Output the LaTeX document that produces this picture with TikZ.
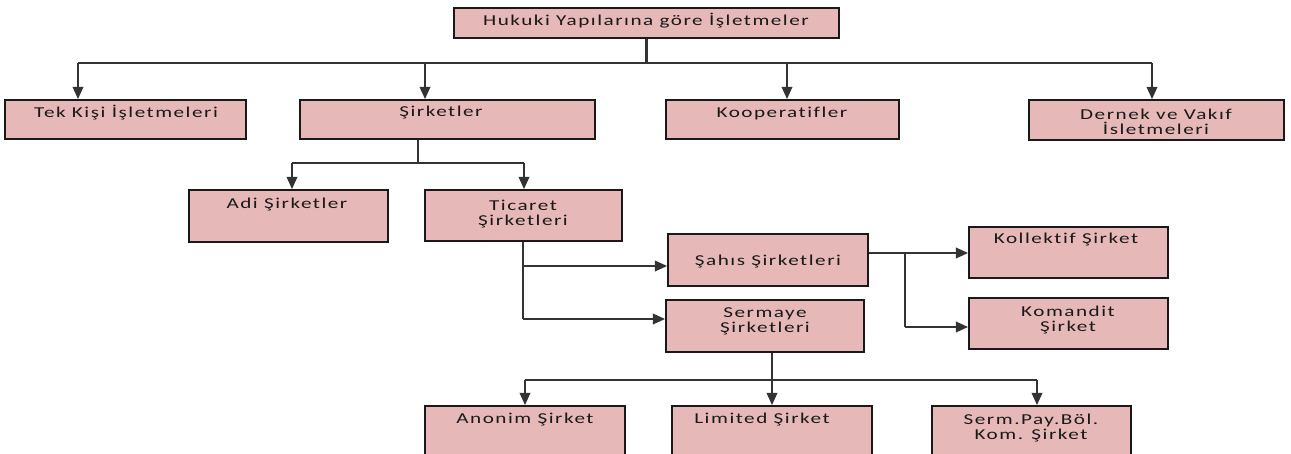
\documentclass[tikz,border=0pt]{standalone}
\usepackage{fontspec}
\setmainfont{Carlito}[FakeStretch=1.4,LetterSpace=10,Ligatures=NoCommon]
\usepackage{tikz}
\usetikzlibrary{fit,arrows.meta}
\definecolor{boxpink}{HTML}{E6B9B8}

\begin{document}
\begin{tikzpicture}[x=0.02cm,y=-0.02cm,
  box/.style={draw=black!90,line width=1pt,fill=boxpink,inner sep=0pt},
  txt/.style={font=\fontsize{8.6}{8.6}\selectfont,text=black!90,align=center,inner sep=0pt},
  line/.style={draw=black!80,line width=1.2pt},
  arr/.style={line,-{Triangle[length=7pt,width=6pt]}}]
\clip (0,0) rectangle (1291,453);

% boxes
\node[box,fit={(454,8) (839,38)}] (top) {};
\node[box,fit={(5,100) (246,139)}] (tek) {};
\node[box,fit={(300,100) (595,139)}] (sirket) {};
\node[box,fit={(666,100) (899,139)}] (koop) {};
\node[box,fit={(1029,100) (1284,140)}] (dernek) {};
\node[box,fit={(189,190) (388,242)}] (adi) {};
\node[box,fit={(425,190) (622,241)}] (ticaret) {};
\node[box,fit={(668,234) (868,286)}] (sahis) {};
\node[box,fit={(666,300) (864,352)}] (sermaye) {};
\node[box,fit={(969,227) (1168,278)}] (kollektif) {};
\node[box,fit={(969,298) (1168,349)}] (komandit) {};
\node[box,fit={(425,406) (625,470)}] (anonim) {};
\node[box,fit={(672,406) (872,470)}] (limited) {};
\node[box,fit={(932,406) (1131,470)}] (spbk) {};

% texts
\node[txt] (top-t) at (646,21) {Hukuki Yapılarına göre İşletmeler};
\node[txt] (tek-t) at (126,113) {Tek Kişi İşletmeleri};
\node[txt] (sirket-t) at (441,113) {Şirketler};
\node[txt] (koop-t) at (782,113) {Kooperatifler};
\node[txt] (dernek-t) at (1156,122) {Dernek ve Vakıf\\İsletmeleri};
\node[txt] (adi-t) at (287,205) {Adi Şirketler};
\node[txt] (ticaret-t) at (523,214) {Ticaret\\Şirketleri};
\node[txt] (sahis-t) at (768,262) {Şahıs Şirketleri};
\node[txt] (sermaye-t) at (765,321) {Sermaye\\Şirketleri};
\node[txt] (kollektif-t) at (1066,240) {Kollektif Şirket};
\node[txt] (komandit-t) at (1068,320) {Komandit\\Şirket};
\node[txt] (anonim-t) at (525,420) {Anonim Şirket};
\node[txt] (limited-t) at (762,420) {Limited Şirket};
\node[txt] (spbk-t) at (1031,428) {Serm.Pay.Böl.\\Kom. Şirket};

% bus points
\coordinate (h1) at (643,63);
\coordinate (h1w) at (78,63);
\coordinate (h1a) at (425,63);
\coordinate (h1b) at (787,63);
\coordinate (h1e) at (1152,63);
\coordinate (h2) at (418,163);
\coordinate (h2w) at (292,163);
\coordinate (h2e) at (524,163);
\coordinate (v1) at (523,266);
\coordinate (v2) at (523,319);
\coordinate (k1) at (905,253);
\coordinate (k2) at (905,327);
\coordinate (h3) at (772,380);
\coordinate (h3w) at (525,380);
\coordinate (h3e) at (1037,380);

% connectors
\draw[line] (top.south) -- (top.south |- h1);
\draw[line] (h1w) -- (h1e);
\draw[arr] (h1w) -- (h1w |- tek.north);
\draw[arr] (h1a) -- (h1a |- sirket.north);
\draw[arr] (h1b) -- (h1b |- koop.north);
\draw[arr] (h1e) -- (h1e |- dernek.north);

\draw[line] (h2 |- sirket.south) -- (h2);
\draw[line] (h2w) -- (h2e);
\draw[arr] (h2w) -- (h2w |- adi.north);
\draw[arr] (h2e) -- (h2e |- ticaret.north);

\draw[line] (v1 |- ticaret.south) -- (v2);
\draw[arr] (v1) -- (v1 -| sahis.west);
\draw[arr] (v2) -- (v2 -| sermaye.west);

\draw[line] (k1 -| sahis.east) -- (k1) -- (k2);
\draw[arr] (k1) -- (k1 -| kollektif.west);
\draw[arr] (k2) -- (k2 -| komandit.west);

\draw[line] (h3 |- sermaye.south) -- (h3);
\draw[line] (h3w) -- (h3e);
\draw[arr] (h3w) -- (h3w |- anonim.north);
\draw[arr] (h3) -- (h3 |- limited.north);
\draw[arr] (h3e) -- (h3e |- spbk.north);
\end{tikzpicture}
\end{document}
